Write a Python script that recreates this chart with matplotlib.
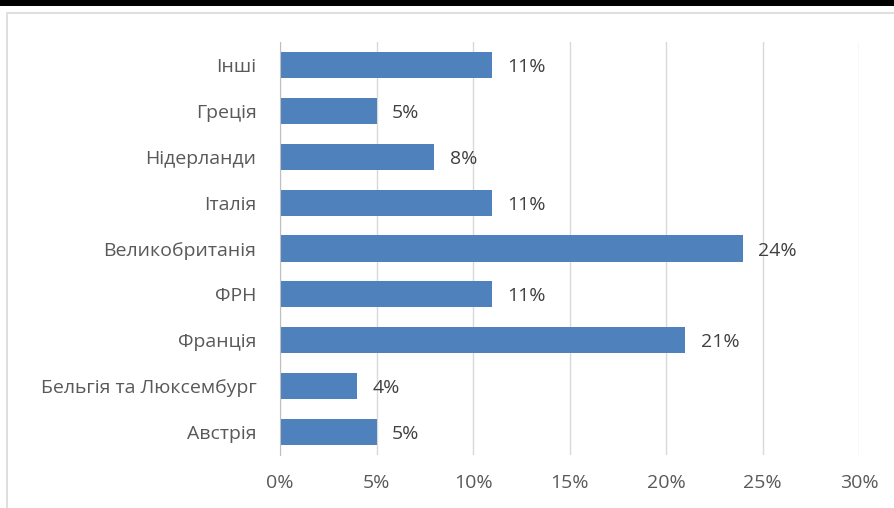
import matplotlib.pyplot as plt
from matplotlib.patches import Rectangle
from matplotlib.ticker import FuncFormatter

countries = ["Австрія", "Бельгія та Люксембург", "Франція", "ФРН",
             "Великобританія", "Італія", "Нідерланди", "Греція", "Інші"]
shares = [5, 4, 21, 11, 24, 11, 8, 5, 11]
xticks = [0, 5, 10, 15, 20, 25, 30]

plt.rcParams["font.family"] = ["Open Sans", "DejaVu Sans"]

fig = plt.figure(figsize=(8.94, 5.08), dpi=100)

# чорна смуга зверху та рамка діаграми
fig.patches.append(Rectangle((0, 1 - 6 / 508), 1, 6 / 508, transform=fig.transFigure,
                             facecolor="black", edgecolor="none"))
fig.patches.append(Rectangle((7 / 894, -0.1), 1.0, (508 - 13) / 508 + 0.1,
                             transform=fig.transFigure, facecolor="none",
                             edgecolor="#d9d9d9", linewidth=1.2))

ax = fig.add_axes([280 / 894, 53 / 508, 579 / 894, 413 / 508])
ypos = range(len(countries))
bars = ax.barh(ypos, shares, height=0.57, color="#4f81bd")
ax.set_ylim(-0.5, len(countries) - 0.5)
ax.set_xlim(0, 30)
ax.set_xticks(xticks)
ax.xaxis.set_major_formatter(FuncFormatter(lambda v, p: f"{v:.0f}%"))
ax.set_yticks(list(ypos))
ax.set_yticklabels(countries)
ax.grid(axis="x", color="#d9d9d9", linewidth=1)
ax.set_axisbelow(True)
for s in ["top", "right", "bottom"]:
    ax.spines[s].set_visible(False)
ax.spines["left"].set_color("#bfbfbf")
ax.tick_params(axis="both", length=0, labelsize=14, colors="#595959")
ax.tick_params(axis="y", pad=17)
ax.tick_params(axis="x", pad=14)

for b, v in zip(bars, shares):
    ax.annotate(f"{v}%", (b.get_width(), b.get_y() + b.get_height() / 2),
                xytext=(11, -1.5), textcoords="offset points", va="center",
                ha="left", fontsize=14, color="#404040")

fig.savefig("out.png", dpi=100)
